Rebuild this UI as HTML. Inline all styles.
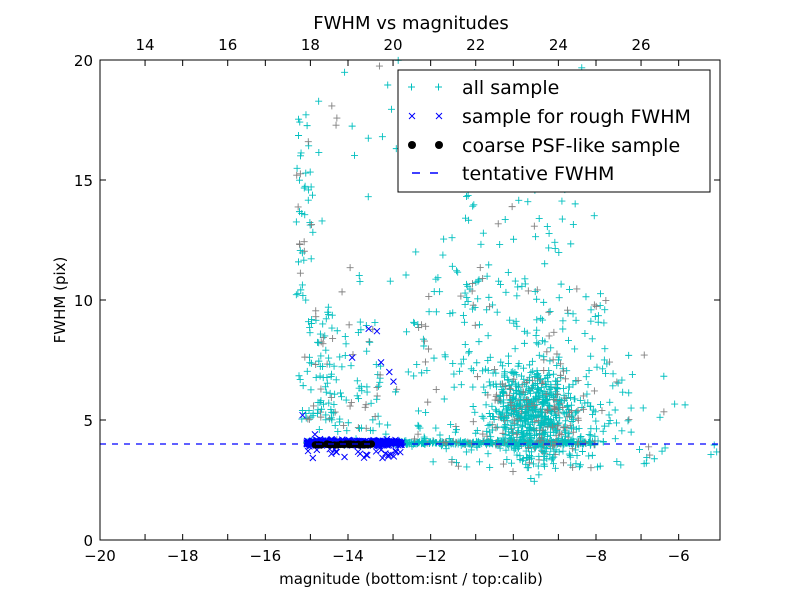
<!DOCTYPE html>
<html><head><meta charset="utf-8"><style>
body{margin:0;background:#fff}
svg text{font-family:"DejaVu Sans","Liberation Sans",sans-serif}
</style></head><body>
<svg id="s" width="800" height="600" xmlns="http://www.w3.org/2000/svg">
<rect width="800" height="600" fill="#fff"/>
<g id="pts"></g>
<line x1="100" y1="444" x2="720" y2="444" stroke="#0000ff" stroke-width="1.2" stroke-dasharray="6,6"/>
<rect x="100" y="60" width="620" height="480" fill="none" stroke="#000" stroke-width="1"/>
<g id="ax" font-size="15" fill="#000"></g>
<text x="411" y="29" font-size="18" text-anchor="middle">FWHM vs magnitudes</text>
<text x="411" y="584" font-size="15" text-anchor="middle">magnitude (bottom:isnt / top:calib)</text>
<text transform="translate(65,300) rotate(-90)" font-size="15" text-anchor="middle">FWHM (pix)</text>
<rect x="398" y="70" width="312" height="122" fill="#fff" stroke="#000"/>
<g font-size="19">
<path d="M408 87h7M411.5 83.5v7M435 87h7M438.5 83.5v7" stroke="#00bfbf" fill="none"/>
<text x="462" y="94">all sample</text>
<path d="M409 113l6 6M415 113l-6 6M436 113l6 6M442 113l-6 6" stroke="#0000ff" fill="none"/>
<text x="462" y="123">sample for rough FWHM</text>
<circle cx="412" cy="145" r="4"/><circle cx="439" cy="145" r="4"/>
<text x="462" y="152">coarse PSF-like sample</text>
<path d="M412 173h8M430 173h8" stroke="#0000ff" stroke-width="1.5"/>
<text x="462" y="180">tentative FWHM</text>
</g>
</svg>
<script>
function X(v){return 100+(v+20)*41.333}
function Y(v){return 540-v*24}
var ax=document.getElementById('ax'),h='';
for(var v=-20;v<=-6;v+=2){var x=X(v);h+='<line x1="'+x+'" y1="540" x2="'+x+'" y2="534" stroke="#000"/><line x1="'+x+'" y1="60" x2="'+x+'" y2="66" stroke="#000"/><text x="'+x+'" y="561" text-anchor="middle">'+(v<0?'\u2212'+(-v):v)+'</text>';}
for(var c=14;c<=26;c+=2){var x=X(c-32.91);h+='<line x1="'+x+'" y1="60" x2="'+x+'" y2="66" stroke="#000"/><line x1="'+x+'" y1="540" x2="'+x+'" y2="534" stroke="#000"/><text x="'+x+'" y="50" text-anchor="middle">'+c+'</text>';}
for(var v=0;v<=20;v+=5){var y=Y(v);h+='<line x1="100" y1="'+y+'" x2="106" y2="'+y+'" stroke="#000"/><line x1="720" y1="'+y+'" x2="714" y2="'+y+'" stroke="#000"/><text x="93" y="'+(y+6)+'" text-anchor="end">'+v+'</text>';}
ax.innerHTML=h;
var seed=7;function r(){seed=(seed*16807)%2147483647;return seed/2147483647}
function g(){return (r()+r()+r()+r()-2)*0.87}
var out='';
function plus(m,f){var x=X(m),y=Y(f);if(x<100||x>720||y<60||y>540)return;var c=r()<0.2?'#808080':'#00bfbf';out+='<path d="M'+(x-3.5)+' '+y+'h7M'+x+' '+(y-3.5)+'v7" stroke="'+c+'" fill="none" stroke-width="0.9"/>';}
function cross(m,f){var x=X(m),y=Y(f);out+='<path d="M'+(x-3)+' '+(y-3)+'l6 6M'+(x+3)+' '+(y-3)+'l-6 6" stroke="#0000ff" fill="none"/>';}
var i;
for(i=0;i<500;i++)plus(-15+r()*7,4.05+g()*0.08);
for(i=0;i<110;i++){var f=5+Math.pow(r(),1.8)*13;plus(-15.25+r()*0.4+(f<10?r()*0.6:0),f);}
for(i=0;i<70;i++)plus(-14.8+r()*1.6,4.5+Math.pow(r(),1.5)*5);
for(i=0;i<650;i++)plus(-9.5+g()*1.1,5.3+g()*2.0);
for(i=0;i<220;i++)plus(-12.5+r()*5,3+Math.pow(r(),1.3)*8);
for(i=0;i<40;i++)plus(-8.5+r()*2.2,3+Math.pow(r(),1.5)*5);
for(i=0;i<5;i++)plus(-6.5+r()*1.5,3.5+r()*2.5);
for(i=0;i<150;i++)plus(-15+r()*7.5,4+Math.pow(r(),1.5)*16);
for(i=0;i<70;i++)plus(-11.5+r()*3,9+r()*9);
for(i=0;i<350;i++)cross(-15+r()*2.3,4.05+g()*0.12);
for(i=0;i<25;i++)cross(-15+r()*2.3,3.4+r()*0.4);
[[-15.1,5.2],[-13.5,8.8],[-13.3,8.7],[-13.9,7.6],[-13.0,7.0],[-12.9,6.6],[-13.2,7.4],[-14.8,4.4]].forEach(function(p){cross(p[0],p[1])});
for(i=0;i<40;i++){var x=X(-14.8+r()*1.4),y=Y(3.95+r()*0.06);out+='<circle cx="'+x+'" cy="'+y+'" r="3.5"/>';}
document.getElementById('pts').innerHTML=out;
</script>
</body></html>
